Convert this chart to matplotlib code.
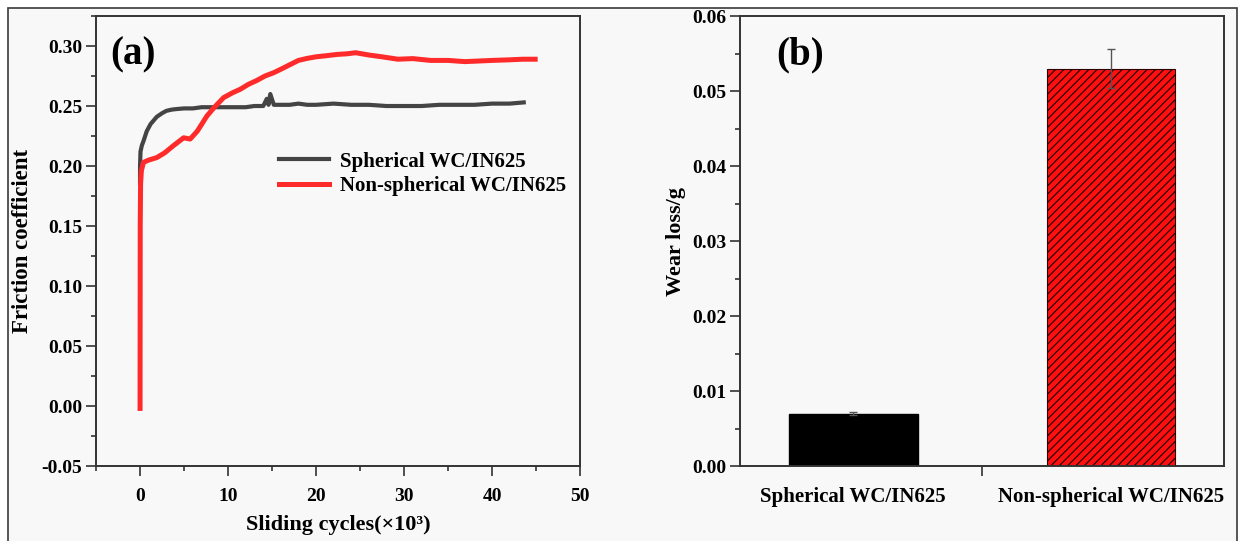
import numpy as np
import matplotlib
matplotlib.use("Agg")
import matplotlib.pyplot as plt
from matplotlib.patches import Rectangle
from matplotlib.ticker import MultipleLocator, FormatStrFormatter

plt.rcParams["font.family"] = "Liberation Serif"
plt.rcParams["font.weight"] = "bold"
plt.rcParams["hatch.linewidth"] = 0.9

# ---- data ----
# (a) friction coefficient vs sliding cycles (x10^3)
sph_x = [0, 0.0, 0.05, 0.2, 0.4, 0.76, 1.2, 1.9, 2.5, 3.0, 3.6, 4.2, 5, 6, 7, 8, 9, 10, 11, 12, 13,
         14.0, 14.4, 14.6, 14.8, 15.2, 16, 17, 18, 19, 20, 22, 24, 26, 28, 30, 32, 34, 36, 38, 40, 42, 43.6]
sph_y = [0.186, 0.200, 0.212, 0.217, 0.221, 0.229, 0.235, 0.241, 0.244, 0.246, 0.247, 0.2475, 0.248,
         0.248, 0.249, 0.249, 0.249, 0.249, 0.249, 0.249, 0.250, 0.250, 0.256, 0.251, 0.260, 0.251,
         0.251, 0.251, 0.252, 0.251, 0.251, 0.252, 0.251, 0.251, 0.250, 0.250, 0.250, 0.251, 0.251,
         0.251, 0.252, 0.252, 0.253]
nsph_x = [0, 0.02, 0.06, 0.15, 0.38, 1.0, 1.9, 2.8, 3.8, 4.95, 5.7, 6.5, 7.6, 8.4, 9.5, 10.5, 11.4,
          12.3, 13.3, 14.2, 15.2, 16.1, 17.1, 18.0, 19.0, 20.0, 20.9, 22.4, 23.5, 24.5, 26, 27.5,
          29.3, 31, 33, 35, 36.9, 38.5, 40, 42, 43.5, 44.9]
nsph_y = [-0.002, 0.150, 0.185, 0.196, 0.203, 0.205, 0.207, 0.211, 0.217, 0.2235, 0.2225, 0.229,
          0.2417, 0.2486, 0.257, 0.261, 0.264, 0.268, 0.2714, 0.275, 0.2778, 0.281, 0.2847, 0.288,
          0.2897, 0.291, 0.2917, 0.293, 0.2935, 0.2944, 0.2925, 0.291, 0.289, 0.2895, 0.288, 0.288,
          0.287, 0.2875, 0.288, 0.2885, 0.289, 0.289]

# (b) wear loss
bar_labels = ["Spherical WC/IN625", "Non-spherical WC/IN625"]
wear_loss = [0.0070, 0.0530]
wear_err = [0.0002, 0.0026]

fig = plt.figure(figsize=(12.41, 5.41), dpi=100, facecolor="white")
fig.patches.append(Rectangle((8 / 1241, -0.05), 1229 / 1241, 1 - 8 / 541 + 0.05,
                             transform=fig.transFigure, facecolor="#f8f8f8",
                             edgecolor="#3a3a3a", linewidth=1.2, zorder=-10))

tick_kw = dict(direction="out", labelsize=14, width=1.2, color="#333333")

# ---------- panel (a) ----------
ax1 = fig.add_axes([0.0774, 0.1386, 0.3900, 0.8318])
ax1.set_facecolor("#f8f8f8")
ax1.plot(sph_x, sph_y, color="#444444", lw=3.0, label="Spherical WC/IN625")
ax1.plot(nsph_x, nsph_y, color="#ff2a2a", lw=3.6, label="Non-spherical WC/IN625")
ax1.set_xlim(-5, 50)
ax1.set_ylim(-0.05, 0.325)
ax1.xaxis.set_major_locator(MultipleLocator(10))
ax1.xaxis.set_minor_locator(MultipleLocator(5))
ax1.yaxis.set_major_locator(MultipleLocator(0.05))
ax1.yaxis.set_minor_locator(MultipleLocator(0.025))
ax1.yaxis.set_major_formatter(FormatStrFormatter("%.2f"))
ax1.tick_params(which="major", length=7, pad=3, **tick_kw)
ax1.tick_params(which="minor", length=3.5, direction="out", width=1.2, color="#333333")
ax1.tick_params(axis="x", which="major", pad=9)
ax1.set_xlabel("Sliding cycles(×10³)", fontsize=16, fontweight="bold", labelpad=7)
ax1.set_ylabel("Friction coefficient", fontsize=16.5, fontweight="bold", labelpad=6)
ax1.text(0.03, 0.955, "(a)", transform=ax1.transAxes, fontsize=28, fontweight="bold", va="top")
ax1.legend(loc="upper left", bbox_to_anchor=(0.34, 0.74), frameon=False, fontsize=15,
           handlelength=2.4, handletextpad=0.5, labelspacing=0.2)
for s in ax1.spines.values():
    s.set_linewidth(1.4)
    s.set_color("#333333")

# ---------- panel (b) ----------
ax2 = fig.add_axes([0.5963, 0.1386, 0.3900, 0.8318])
ax2.set_facecolor("#f8f8f8")
pos = np.arange(1, len(wear_loss) + 1)
ax2.bar(pos[0], wear_loss[0], width=0.5, color="black", edgecolor="black")
ax2.bar(pos[1], wear_loss[1], width=0.5, color="#ff1010", edgecolor="#2a0000",
        linewidth=0.8, hatch="////")
ax2.errorbar(pos, wear_loss, yerr=wear_err, fmt="none", ecolor="#555555",
             elinewidth=1.0, capsize=3, capthick=1.0)
ax2.set_xlim(0.562, 2.438)
ax2.set_ylim(0, 0.06)
ax2.set_xticks(pos)
ax2.set_xticklabels(bar_labels, fontsize=15, fontweight="bold")
ax2.set_xticks([1.5], minor=True)
ax2.yaxis.set_major_locator(MultipleLocator(0.01))
ax2.yaxis.set_minor_locator(MultipleLocator(0.005))
ax2.yaxis.set_major_formatter(FormatStrFormatter("%.2f"))
ax2.tick_params(axis="y", which="major", length=7, pad=3, **tick_kw)
ax2.tick_params(axis="y", which="minor", length=3.5, direction="out", width=1.2, color="#333333")
ax2.tick_params(axis="x", which="major", length=0, pad=15)
ax2.tick_params(axis="x", which="minor", length=7, direction="out", width=1.2, color="#333333")
ax2.set_ylabel("Wear loss/g", fontsize=16, fontweight="bold", labelpad=4)
ax2.text(0.075, 0.955, "(b)", transform=ax2.transAxes, fontsize=28, fontweight="bold", va="top")
for s in ax2.spines.values():
    s.set_linewidth(1.4)
    s.set_color("#333333")

fig.savefig("out.png", dpi=100, facecolor=fig.get_facecolor())
